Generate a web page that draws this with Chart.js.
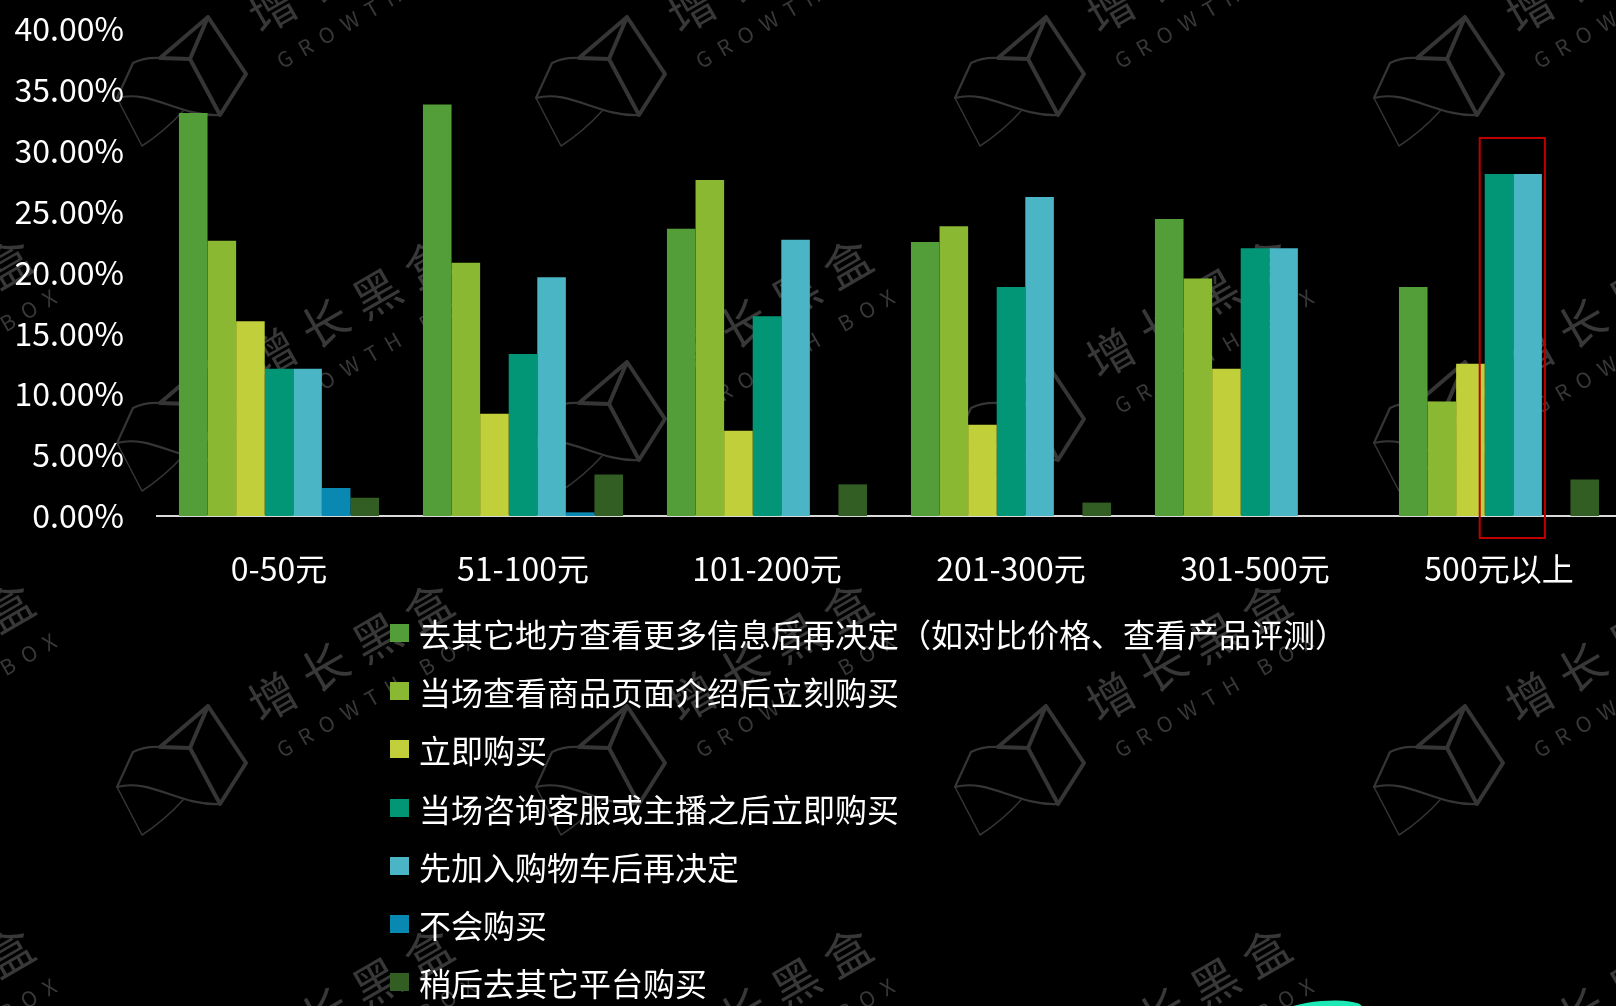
<!DOCTYPE html>
<html>
<head>
<meta charset="utf-8">
<script src="https://cdn.jsdelivr.net/npm/chart.js@4.4.1/dist/chart.umd.min.js"></script>
<style>
  html, body { margin: 0; padding: 0; background: #000; overflow: hidden; }
  #wrap { position: relative; width: 1616px; height: 1006px; overflow: hidden; background: #000; }
  #chart { position: absolute; left: 0; top: 0; }
  #legend {
    position: absolute; left: 390px; top: 604px; margin: 0; padding: 0; list-style: none;
    font-family: "Noto Sans CJK SC", sans-serif; font-size: 32px; color: #fff;
  }
  #legend li { height: 58.2px; display: flex; align-items: center; white-space: nowrap; }
  #legend .sw { width: 19px; height: 18px; margin-right: 10px; flex: none; }
</style>
</head>
<body>
<div id="wrap">
  <canvas id="chart" width="1621" height="1006"></canvas>
  <ul id="legend"></ul>
</div>
<script>
var categories = ['0-50元', '51-100元', '101-200元', '201-300元', '301-500元', '500元以上'];

var seriesNames = [
  '去其它地方查看更多信息后再决定（如对比价格、查看产品评测）',
  '当场查看商品页面介绍后立刻购买',
  '立即购买',
  '当场咨询客服或主播之后立即购买',
  '先加入购物车后再决定',
  '不会购买',
  '稍后去其它平台购买'
];

var seriesColors = ['#549e39', '#8ab833', '#c0cf3a', '#029676', '#4ab5c4', '#0989b1', '#325e24'];

// values in percent
var lookElsewhere = [33.1, 33.8, 23.6, 22.5, 24.4, 18.8];
var pageThenBuy   = [22.6, 20.8, 27.6, 23.8, 19.5, 9.4];
var buyNow        = [16.0, 8.4, 7.0, 7.5, 12.1, 12.5];
var askThenBuy    = [12.1, 13.3, 16.4, 18.8, 22.0, 28.1];
var cartFirst     = [12.1, 19.6, 22.7, 26.2, 22.0, 28.1];
var wontBuy       = [2.3, 0.3, 0, 0, 0, 0];
var otherPlatform = [1.5, 3.4, 2.6, 1.1, 0, 3.0];

var seriesValues = [lookElsewhere, pageThenBuy, buyNow, askThenBuy, cartFirst, wontBuy, otherPlatform];

var yMin = 0, yMax = 40, yStep = 5;

// red box round these bars
var highlightIndex = 5;
var highlightSeries = [3, 4];
var highlightTop = 31.05;

var FONT = '"Noto Sans CJK SC", sans-serif';
Chart.defaults.font.family = FONT;

function drawLogo(ctx, cx, cy) {
  ctx.save();
  ctx.translate(cx, cy);
  ctx.lineJoin = 'round';
  ctx.lineCap = 'round';
  ctx.lineWidth = 4;
  ctx.beginPath();
  ctx.moveTo(-20, -23); ctx.lineTo(28, -64); ctx.lineTo(66, -7); ctx.lineTo(40, 34);
  ctx.lineTo(10, -22); ctx.lineTo(-20, -23);
  ctx.moveTo(10, -22); ctx.lineTo(28, -64);
  ctx.stroke();
  ctx.lineWidth = 2.2;
  ctx.beginPath();
  ctx.moveTo(-20, -23); ctx.quadraticCurveTo(-35, -24, -47, -18); ctx.lineTo(-63, 17);
  ctx.bezierCurveTo(-30, 8, 0, 36, 40, 34);
  ctx.stroke();
  ctx.lineWidth = 1.5;
  ctx.beginPath();
  ctx.moveTo(-63, 17); ctx.lineTo(-38, 65); ctx.quadraticCurveTo(-15, 50, 3, 30);
  ctx.stroke();
  ctx.restore();
}

var watermark = {
  id: 'watermark',
  beforeDraw: function (chart) {
    var ctx = chart.ctx;
    ctx.save();
    ctx.fillStyle = '#000';
    ctx.fillRect(0, 0, chart.width, chart.height);
    ctx.strokeStyle = '#353535';
    ctx.fillStyle = '#383838';
    var cols = [180, 599, 1018, 1437, -239];
    var rows = [81, 426, 770, 1115];
    for (var r = 0; r < rows.length; r++) {
      for (var c = 0; c < cols.length; c++) {
        var lx = cols[c], ly = rows[r];
        drawLogo(ctx, lx, ly);
        ctx.save();
        ctx.translate(lx + 171, ly - 118);
        ctx.rotate(-Math.PI / 6);
        ctx.textAlign = 'center';
        ctx.textBaseline = 'middle';
        ctx.font = '400 47px ' + FONT;
        ctx.letterSpacing = '13px';
        ctx.fillText('增长黑盒', 6, 0);
        ctx.font = '400 21px ' + FONT;
        ctx.letterSpacing = '10px';
        ctx.fillText('GROWTH BOX', 5, 50);
        ctx.restore();
      }
    }
    ctx.fillStyle = '#1de9b6';
    ctx.beginPath();
    ctx.ellipse(1322, 1010, 40, 9, -0.08, 0, Math.PI * 2);
    ctx.fill();
    ctx.restore();
  }
};

var highlightBox = {
  id: 'highlightBox',
  afterDatasetsDraw: function (chart) {
    var a = chart.getDatasetMeta(highlightSeries[0]).data[highlightIndex];
    var b = chart.getDatasetMeta(highlightSeries[1]).data[highlightIndex];
    var y = chart.scales.y;
    var left = a.x - a.width / 2 - 5;
    var right = b.x + b.width / 2 + 3;
    var top = y.getPixelForValue(highlightTop);
    var bottom = y.getPixelForValue(0) + 22;
    var ctx = chart.ctx;
    ctx.save();
    ctx.strokeStyle = '#c00000';
    ctx.lineWidth = 2;
    ctx.strokeRect(left, top, right - left, bottom - top);
    ctx.restore();
  }
};

var datasets = [];
for (var i = 0; i < seriesNames.length; i++) {
  datasets.push({
    label: seriesNames[i],
    data: seriesValues[i],
    backgroundColor: seriesColors[i],
    borderWidth: 0
  });
}

var chart = new Chart(document.getElementById('chart'), {
  type: 'bar',
  data: { labels: categories, datasets: datasets },
  options: {
    responsive: false,
    animation: false,
    layout: { padding: { top: 29, left: 0, right: 0, bottom: 0 } },
    datasets: { bar: { categoryPercentage: 0.82, barPercentage: 1 } },
    plugins: { legend: { display: false }, tooltip: { enabled: false } },
    scales: {
      x: {
        grid: { display: false, drawTicks: false },
        border: { display: true, color: '#d9d9d9', width: 2 },
        ticks: { color: '#fff', font: { size: 32 }, padding: 34, maxRotation: 0 },
        afterFit: function (s) { s.height = 490; s.paddingLeft = 0; s.paddingRight = 0; }
      },
      y: {
        min: yMin, max: yMax,
        grid: { display: false, drawTicks: false },
        border: { display: false },
        ticks: {
          stepSize: yStep, color: '#fff', font: { size: 32 }, padding: 33,
          callback: function (v) { return v.toFixed(2) + '%'; }
        },
        afterFit: function (s) { s.width = 157; s.paddingTop = 0; s.paddingBottom = 0; }
      }
    }
  },
  plugins: [watermark, highlightBox]
});

var legendHtml = '';
for (var j = 0; j < seriesNames.length; j++) {
  legendHtml += '<li><span class="sw" style="background:' + seriesColors[j] + '"></span>'
    + seriesNames[j] + '</li>';
}
document.getElementById('legend').innerHTML = legendHtml;
</script>
</body>
</html>
